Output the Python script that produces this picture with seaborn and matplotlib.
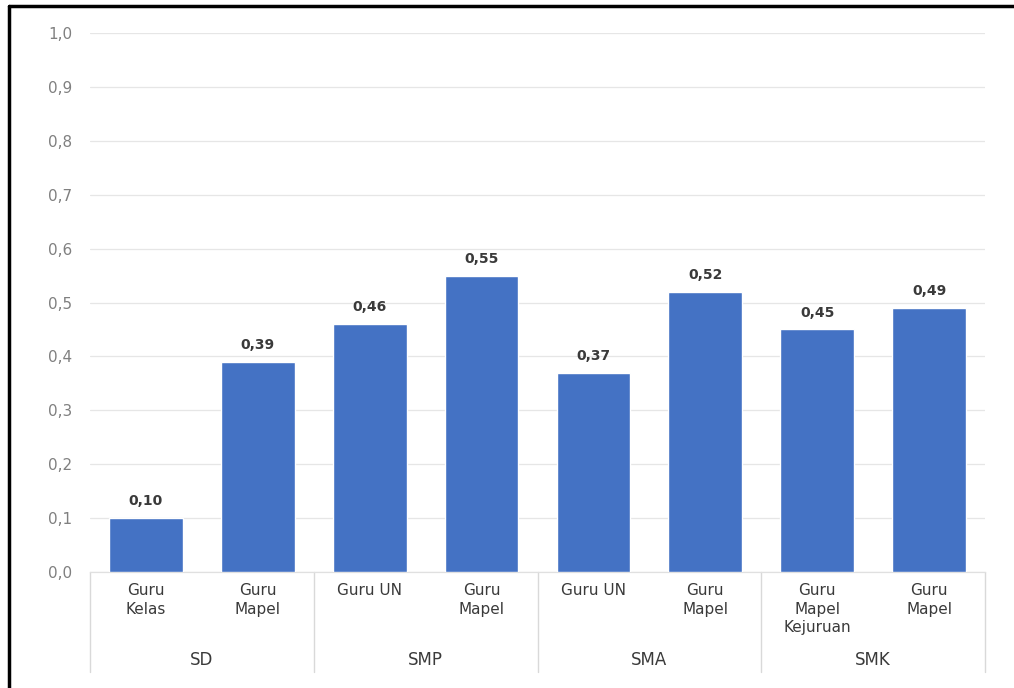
import pandas as pd
import seaborn as sns
import matplotlib.pyplot as plt
import matplotlib.transforms as mtransforms
from matplotlib.lines import Line2D

# data
jenjang = ['SD', 'SD', 'SMP', 'SMP', 'SMA', 'SMA', 'SMK', 'SMK']
guru = ['Guru\nKelas', 'Guru\nMapel', 'Guru UN', 'Guru\nMapel',
        'Guru UN', 'Guru\nMapel', 'Guru\nMapel\nKejuruan', 'Guru\nMapel']
nilai = [0.10, 0.39, 0.46, 0.55, 0.37, 0.52, 0.45, 0.49]
groups = ['SD', 'SMP', 'SMA', 'SMK']
yticks = [0.0, 0.1, 0.2, 0.3, 0.4, 0.5, 0.6, 0.7, 0.8, 0.9, 1.0]

df = pd.DataFrame({'jenjang': jenjang, 'guru': guru, 'nilai': nilai})
df['key'] = [f'{j}-{i}' for i, j in enumerate(df['jenjang'])]

sns.set_style('white')
# the source picture is stretched sideways, so a wide face fits it better
plt.rcParams['font.family'] = ['DejaVu Sans']

fig = plt.figure(figsize=(10.14, 6.88), dpi=100)
ax = fig.add_axes([90 / 1014, 1 - 572 / 688, 895 / 1014, 539 / 688])

sns.barplot(data=df, x='key', y='nilai', color='#4472C4', saturation=1,
            width=0.66, ax=ax, zorder=3)

ax.set_ylim(0, 1.0)
ax.set_xlim(-0.5, len(df) - 0.5)
ax.set_yticks(yticks)
ax.set_yticklabels([f'{v:.1f}'.replace('.', ',') for v in yticks],
                   color='#808080', fontsize=11)
ax.yaxis.grid(True, color='#e6e6e6', linewidth=0.9, zorder=0)
ax.tick_params(axis='y', length=0, pad=13)
ax.tick_params(axis='x', length=0, pad=8)
ax.set_xticks(range(len(df)))
ax.set_xticklabels(df['guru'], fontsize=11, color='#3a3a3a', linespacing=1.3,
                   va='top')
ax.set_xlabel('')
ax.set_ylabel('')
for side in ['top', 'right', 'left']:
    ax.spines[side].set_visible(False)
ax.spines['bottom'].set_color('#e0e0e0')
ax.spines['bottom'].set_linewidth(0.9)

for c in ax.containers:
    ax.bar_label(c, labels=[f'{v:.2f}'.replace('.', ',') for v in nilai],
                 padding=7, fontsize=10, color='#3a3a3a', fontweight='bold')

# two-level category axis
trans = mtransforms.blended_transform_factory(ax.transData, ax.transAxes)
for k in range(len(groups) + 1):
    xpos = -0.5 + 2 * k
    ax.plot([xpos, xpos], [0, -0.186], transform=trans, color='#d9d9d9',
            lw=1.0, clip_on=False)
for k, g in enumerate(groups):
    ax.text(0.5 + 2 * k, -0.163, g, transform=trans, ha='center', va='center',
            fontsize=12, color='#3a3a3a')

# frame of the clipped image
fig.add_artist(Line2D([9 / 1014, 9 / 1014], [0, 1 - 6 / 688],
                      transform=fig.transFigure, color='black', lw=2.5))
fig.add_artist(Line2D([9 / 1014, 1], [1 - 6 / 688, 1 - 6 / 688],
                      transform=fig.transFigure, color='black', lw=2.5))

plt.savefig('out.png', dpi=100)
plt.close()
